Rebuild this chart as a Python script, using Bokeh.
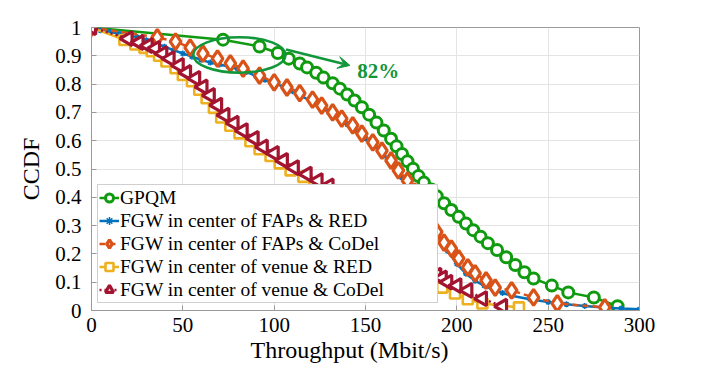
from bokeh.plotting import figure
from bokeh.models import FixedTicker, CustomJSTickFormatter, Arrow, VeeHead, Legend, LegendItem, Title
from bokeh.core.properties import value
from bokeh.embed import file_html
from bokeh.resources import INLINE

# ---------------- data ----------------
gpqm_x = [0, 72, 92, 102, 108, 114, 118, 123, 127, 132, 136, 140, 144, 148, 152, 156, 160, 164, 167,
          170, 173, 176, 179, 182, 186, 189, 193, 197, 201, 205, 209, 213, 217, 222, 227, 232, 237,
          242, 252, 261, 275, 288]
gpqm_y = [1.0, 0.957, 0.933, 0.910, 0.890, 0.873, 0.859, 0.840, 0.823, 0.803, 0.784, 0.763, 0.742,
          0.718, 0.692, 0.664, 0.636, 0.607, 0.580, 0.553, 0.527, 0.501, 0.475, 0.452, 0.428, 0.404,
          0.379, 0.355, 0.331, 0.307, 0.284, 0.261, 0.238, 0.214, 0.188, 0.161, 0.135, 0.113, 0.088,
          0.064, 0.046, 0.015]

faps_red_x = [0, 5, 10, 15, 20, 25, 30, 35, 40, 45, 50, 55, 60, 65, 70, 75, 80, 85, 90, 95, 100,
              105, 110, 115, 120, 125, 130, 135, 140, 145, 150, 155, 160, 165, 170, 175, 180, 185,
              190, 195, 200, 205, 210, 215, 220, 225, 230, 240, 250, 260, 270, 280, 290, 300]
faps_red_y = [1.0, 0.99, 0.985, 0.978, 0.972, 0.966, 0.955, 0.945, 0.932, 0.920, 0.908, 0.897,
              0.886, 0.876, 0.869, 0.862, 0.853, 0.843, 0.828, 0.815, 0.804, 0.790, 0.775, 0.758,
              0.740, 0.721, 0.700, 0.680, 0.658, 0.635, 0.608, 0.580, 0.548, 0.512, 0.470, 0.425,
              0.375, 0.320, 0.262, 0.210, 0.165, 0.130, 0.105, 0.088, 0.073, 0.062, 0.052, 0.040,
              0.030, 0.022, 0.016, 0.011, 0.007, 0.004]

faps_codel_x = [0, 36, 46, 54, 61, 69, 76, 83, 92, 100, 107, 114, 121, 126, 132, 137, 143, 148,
                154, 159, 164, 168, 173, 177, 181, 185, 189, 193, 197, 201, 206, 210, 216, 221,
                230, 242, 255, 281]
faps_codel_y = [1.0, 0.965, 0.950, 0.929, 0.908, 0.890, 0.873, 0.855, 0.830, 0.806, 0.788, 0.768,
                0.745, 0.724, 0.700, 0.678, 0.654, 0.625, 0.594, 0.565, 0.530, 0.495, 0.459, 0.420,
                0.375, 0.325, 0.278, 0.240, 0.219, 0.184, 0.152, 0.131, 0.106, 0.081, 0.071, 0.046,
                0.025, 0.011]

venue_red_x = [0, 18, 24, 29, 33, 37, 41, 46, 50, 55, 59, 63, 67, 71, 76, 81, 87, 92, 98, 103,
               109, 116, 122, 128, 140, 150, 160, 170, 180, 188, 192, 199, 206, 214, 234]
venue_red_y = [1.0, 0.956, 0.940, 0.928, 0.916, 0.900, 0.880, 0.856, 0.832, 0.810, 0.780, 0.750,
               0.716, 0.682, 0.653, 0.626, 0.598, 0.570, 0.546, 0.520, 0.495, 0.472, 0.448, 0.426,
               0.385, 0.335, 0.285, 0.235, 0.175, 0.110, 0.081, 0.060, 0.040, 0.025, 0.011]

venue_codel_x = [0, 20, 26, 31, 35, 39, 43, 48, 52, 57, 61, 65, 69, 73, 78, 83, 89, 94, 100, 105,
                 111, 118, 124, 130, 140, 150, 160, 170, 180, 189, 192, 195, 200, 206, 214, 225]
venue_codel_y = [1.0, 0.961, 0.947, 0.936, 0.926, 0.908, 0.890, 0.866, 0.841, 0.820, 0.790, 0.760,
                 0.726, 0.690, 0.662, 0.636, 0.608, 0.578, 0.555, 0.530, 0.505, 0.482, 0.459, 0.440,
                 0.400, 0.350, 0.300, 0.250, 0.190, 0.125, 0.115, 0.100, 0.088, 0.071, 0.042, 0.015]

x_ticks = [0, 50, 100, 150, 200, 250, 300]
y_ticks = [0, 0.1, 0.2, 0.3, 0.4, 0.5, 0.6, 0.7, 0.8, 0.9, 1]
labels = ["GPQM", "FGW in center of FAPs & RED", "FGW in center of FAPs & CoDel",
          "FGW in center of venue & RED", "FGW in center of venue & CoDel"]
x_label = "Throughput (Mbit/s)"
y_label = "CCDF"
annot_text = "82%"

# ---------------- styling ----------------
SERIF = "Liberation Serif"
GREEN = "#109a10"
ANN_GREEN = "#12963a"
BLUE = "#0072BD"
ORANGE = "#D95319"
YELLOW = "#EDB120"
DARKRED = "#A2142F"
AXIS_GRAY = "#9a9a9a"

p = figure(width=698, height=366, x_range=(0, 300), y_range=(0, 1),
           output_backend="svg", toolbar_location=None,
           min_border_left=91, min_border_right=59, min_border_top=27, min_border_bottom=56)
p.background_fill_color = "white"
p.border_fill_color = "white"
p.outline_line_color = AXIS_GRAY
p.outline_line_width = 1

for ax in (p.xaxis[0], p.yaxis[0]):
    ax.axis_line_color = AXIS_GRAY
    ax.major_tick_line_color = AXIS_GRAY
    ax.major_tick_in = 5
    ax.major_tick_out = 0
    ax.minor_tick_line_color = None
    ax.major_label_text_font = SERIF
    ax.major_label_text_font_size = "21px"
    ax.major_label_text_color = "black"
    ax.axis_label_text_font = SERIF
    ax.axis_label_text_font_size = "24px"
    ax.axis_label_text_font_style = "normal"
    ax.axis_label_text_color = "black"

p.xaxis.ticker = FixedTicker(ticks=x_ticks)
p.yaxis.ticker = FixedTicker(ticks=y_ticks)
p.yaxis.formatter = CustomJSTickFormatter(code="return String(Number(tick.toFixed(2)));")
p.xaxis.major_label_standoff = 7
p.yaxis.major_label_standoff = 10
p.yaxis.axis_label = y_label
p.yaxis.axis_label_standoff = 8

# x-axis title (slightly left of centre, as in the original)
p.add_layout(Title(text=x_label, align="left", offset=159, text_font=SERIF,
                   text_font_size="24px", text_font_style="normal", text_color="black",
                   standoff=0), "below")

p.xgrid.ticker = FixedTicker(ticks=x_ticks)
p.ygrid.ticker = FixedTicker(ticks=y_ticks)
p.grid.grid_line_color = "#e4e4e4"
p.grid.grid_line_width = 1

items = []

# GPQM
l1 = p.line(gpqm_x, gpqm_y, line_color=GREEN, line_width=2.5)
s1 = p.scatter(gpqm_x, gpqm_y, marker="circle", size=11, line_color=GREEN, line_width=3,
               fill_color="white")
items.append(LegendItem(label=labels[0], renderers=[l1, s1]))

# FAPs & RED
l2 = p.line(faps_red_x, faps_red_y, line_color=BLUE, line_width=2.5)
s2 = p.scatter(faps_red_x, faps_red_y, marker="asterisk", size=6, line_color=BLUE, line_width=1.5)
items.append(LegendItem(label=labels[1], renderers=[l2, s2]))

# FAPs & CoDel
l3 = p.line(faps_codel_x, faps_codel_y, line_color=ORANGE, line_width=2.5, line_dash="6 4")
s3 = p.scatter(faps_codel_x, faps_codel_y, marker="diamond", size=16, line_color=ORANGE,
               line_width=3.2, fill_color="white")
items.append(LegendItem(label=labels[2], renderers=[l3, s3]))

# venue & RED
l4 = p.line(venue_red_x, venue_red_y, line_color=YELLOW, line_width=2.5)
s4 = p.scatter(venue_red_x, venue_red_y, marker="square", size=10, line_color=YELLOW,
               line_width=2.6, fill_color="white")
items.append(LegendItem(label=labels[3], renderers=[l4, s4]))

# venue & CoDel
l5 = p.line(venue_codel_x, venue_codel_y, line_color=DARKRED, line_width=2.5, line_dash="2 3")
s5 = p.scatter(venue_codel_x, venue_codel_y, marker="triangle", size=14, angle=1.5708,
               line_color=DARKRED, line_width=3.2, fill_color="white")
items.append(LegendItem(label=labels[4], renderers=[l5, s5]))

# annotation
p.ellipse(x=[81], y=[0.903], width=50.5, height=0.125, fill_color=None,
          line_color=ANN_GREEN, line_width=2.5)
p.add_layout(Arrow(x_start=106.5, y_start=0.922, x_end=141.5, y_end=0.866,
                   line_color=ANN_GREEN, line_width=2.5,
                   end=VeeHead(size=12, line_color=ANN_GREEN, fill_color=ANN_GREEN, line_width=1)))
p.text(x=[145.5], y=[0.848], text=[annot_text], text_font=value(SERIF), text_font_style="bold",
       text_font_size="21px", text_color=ANN_GREEN, text_baseline="middle", text_align="left")

legend = Legend(items=items, location=(6, 7))
legend.label_text_font = SERIF
legend.label_text_font_size = "19.5px"
legend.label_text_color = "black"
legend.border_line_color = "#a0a0a0"
legend.border_line_width = 1
legend.background_fill_color = "white"
legend.background_fill_alpha = 1
legend.padding = 1
legend.spacing = 0
legend.margin = 0
legend.glyph_width = 20
legend.glyph_height = 23
legend.label_height = 23
legend.label_standoff = 1
legend.label_width = 316
p.add_layout(legend, "center")

open("out.html", "w").write(file_html(p, INLINE))
